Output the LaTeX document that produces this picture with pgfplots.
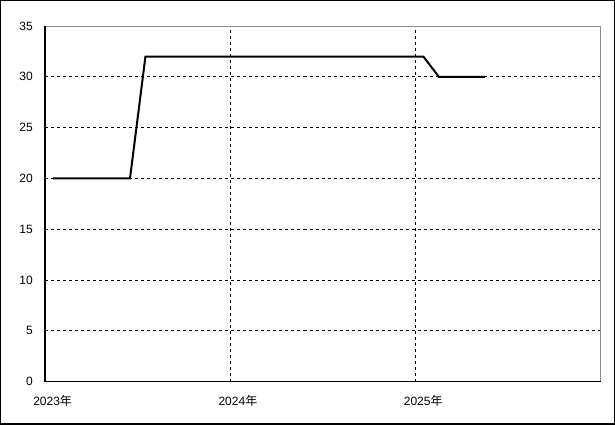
\documentclass[border=0pt]{standalone}
\usepackage{pgfplots}
\pgfplotsset{compat=1.18}
\usepackage{fontspec}
\setmainfont{Liberation Sans}
\newfontfamily\cjk{Noto Sans CJK JP}
\begin{document}
\begin{tikzpicture}
\begin{axis}[
  at={(0,0)}, anchor=south west,
  width=555bp, height=355bp, scale only axis,
  xmin=0, xmax=36, ymin=0, ymax=35,
  xtick={0,12,24},
  xticklabels={2023{\cjk 年},2024{\cjk 年},2025{\cjk 年}},
  ytick={0,5,...,35},
  major tick length=0pt,
  axis line style={draw=none},
  xmajorgrids, ymajorgrids,
  major grid style={black, line width=1bp, dash pattern=on 3bp off 3bp},
  /pgf/number format/assume math mode=true,
  tick label style={font=\fontsize{12bp}{14bp}\selectfont, text=black},
  yticklabel style={anchor=east, inner sep=0pt, xshift=-12bp},
  xticklabel style={anchor=north west, inner sep=0pt, xshift=-12bp, yshift=-14bp},
  clip=false,
]
\addplot[black, line width=2bp, line join=miter] coordinates {
(0.5,20)(1.5,20)(2.5,20)(3.5,20)(4.5,20)(5.5,20)
(6.5,32)(7.5,32)(8.5,32)(9.5,32)(10.5,32)(11.5,32)(12.5,32)(13.5,32)(14.5,32)(15.5,32)
(16.5,32)(17.5,32)(18.5,32)(19.5,32)(20.5,32)(21.5,32)(22.5,32)(23.5,32)(24.5,32)
(25.5,30)(26.5,30)(27.5,30)(28.5,30)
};
\draw[gray!90, line width=1bp] (rel axis cs:0,1) -- (rel axis cs:1,1) -- (rel axis cs:1,0);
\draw[black, line width=1.2bp] (rel axis cs:0,1) -- (rel axis cs:0,0) -- (rel axis cs:1,0);
\end{axis}
\draw[black, line width=1.2bp] (-44.4bp,-42.4bp) rectangle (568.4bp,380.4bp);
\end{tikzpicture}
\end{document}
